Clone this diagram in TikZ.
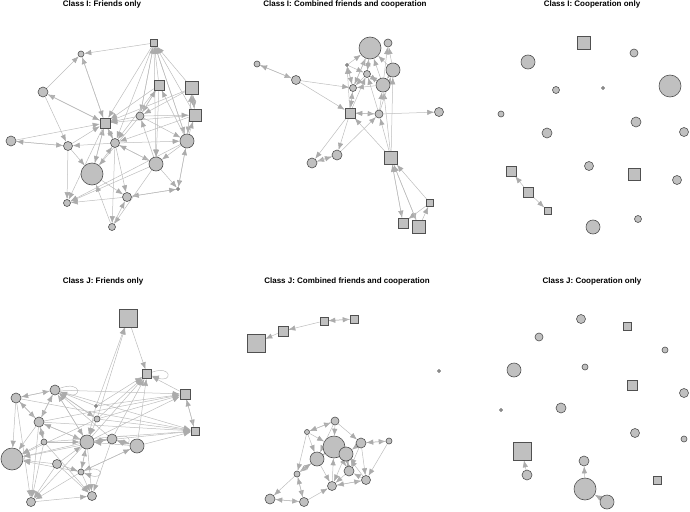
\documentclass[tikz,border=0pt]{standalone}
\usepackage{fontspec}
\setmainfont{Liberation Sans}
\usetikzlibrary{arrows.meta,backgrounds}
\definecolor{vfill}{HTML}{C0C0C0}
\definecolor{vline}{HTML}{505050}
\definecolor{egray}{HTML}{BDBDBD}
\definecolor{ahead}{HTML}{ABABAB}
\tikzset{
 cn/.style={circle,draw=vline,fill=vfill,line width=.6pt,inner sep=0pt,minimum size=#1pt},
 sn/.style={rectangle,draw=vline,fill=vfill,line width=.6pt,inner sep=0pt,minimum size=#1pt},
 ln/.style={draw=egray,line width=.5pt,-{Latex[length=7pt,width=5.4pt,color=ahead]}},
 ttl/.style={font=\bfseries\fontsize{8}{9}\selectfont,anchor=base}
}
\begin{document}
\begin{tikzpicture}[x=1pt,y=-1pt]
 \useasboundingbox (0,0) rectangle (690,511);
 % titles
 \node[ttl] (t1) at (102,7) {Class I: Friends only};
 \node[ttl] (t2) at (345,7) {Class I: Combined friends and cooperation};
 \node[ttl] (t3) at (592,7) {Class I: Cooperation only};
 \node[ttl] (t4) at (103,283) {Class J: Friends only};
 \node[ttl] (t5) at (347,283) {Class J: Combined friends and cooperation};
 \node[ttl] (t6) at (592,283) {Class J: Cooperation only};

 % Class I, friends
 \foreach \n/\x/\y/\d in {2/81/54/6,3/43/92/10,8/140/116/8,9/11/141/10,10/68/146/9,
   11/115/143/9,12/187/141/14,13/156/164/14,14/92/174/22,15/127/197/9,16/178/189/3,
   17/67/203/7,18/112/227/7}
  \node[cn=\d] (if\n) at (\x,\y) {};
 \foreach \n/\x/\y/\d in {1/154/43/7,4/159/85/10,5/192/88/13,6/195/115/12,7/105/123/10}
  \node[sn=\d] (if\n) at (\x,\y) {};

 % Class I, combined
 \foreach \n/\x/\y/\d in {1/370/48/22,2/388/43/8,3/347/65/3,4/393/70/14,5/367/74/7,
   6/383/85/14,7/353/88/7,8/257/64/6,9/296/80/9,11/379/114/8,12/439/112/9,
   14/337/155/10,15/312/163/10}
  \node[cn=\d] (ic\n) at (\x,\y) {};
 \foreach \n/\x/\y/\d in {10/350/113/10,13/391/158/13,16/430/203/7,17/403/223/10,18/419/227/13}
  \node[sn=\d] (ic\n) at (\x,\y) {};

 % Class I, cooperation
 \foreach \n/\x/\y/\d in {2/634/53/8,3/528/62/14,4/556/90/7,5/603/88/3,6/670/86/22,
   7/501/114/6,8/636/122/10,9/684/132/9,10/547/133/10,11/589/166/9,13/677/180/9,
   17/593/227/14,18/638/219/7}
  \node[cn=\d] (io\n) at (\x,\y) {};
 \foreach \n/\x/\y/\d in {1/584/43/13,12/634/174/12,14/511/171/10,15/528/192/10,16/548/211/7}
  \node[sn=\d] (io\n) at (\x,\y) {};

 % Class J, friends
 \foreach \n/\x/\y/\d in {5/16/398/10,6/55/390/10,7/96/406/3,8/97/419/6,9/39/422/10,
   10/44/442/6,11/87/442/14,12/112/439/10,13/137/446/14,14/12/459/22,15/57/464/9,
   16/81/472/6,17/31/502/9,18/92/496/9}
  \node[cn=\d] (jf\n) at (\x,\y) {};
 \foreach \n/\x/\y/\d in {1/128/318/18,2/147/374/9,3/185/394/10,4/195/431/8}
  \node[sn=\d] (jf\n) at (\x,\y) {};

 % Class J, combined
 \foreach \n/\x/\y/\d in {5/439/371/3,6/335/421/8,7/307/432/5,8/361/443/10,9/389/441/6,
   10/334/447/22,11/346/454/14,12/317/459/14,13/349/471/10,14/366/480/9,15/297/474/6,
   16/332/486/9,17/270/499/10,18/304/502/9}
  \node[cn=\d] (jc\n) at (\x,\y) {};
 \foreach \n/\x/\y/\d in {1/256/343/18,2/283/331/10,3/324/321/8,4/354/319/8}
  \node[sn=\d] (jc\n) at (\x,\y) {};

 % Class J, cooperation
 \foreach \n/\x/\y/\d in {1/581/319/9,3/539/337/8,4/665/350/6,5/514/370/14,6/585/367/6,
   8/684/393/9,9/501/410/3,10/561/408/10,11/635/433/9,12/684/439/6,14/584/461/10,
   15/527/475/10,17/585/489/22,18/607/502/14}
  \node[cn=\d] (jo\n) at (\x,\y) {};
 \foreach \n/\x/\y/\d in {2/627/326/8,7/632/385/10,13/522/451/18,16/657/480/8}
  \node[sn=\d] (jo\n) at (\x,\y) {};

 \begin{pgfonlayer}{background}
 \foreach \a/\b in {1/2,3/2,7/2,2/7,7/3,3/7,1/7,1/11,1/8,1/13,1/12,4/1,5/1,6/1,8/1,12/1,
   4/7,4/8,4/13,4/11,5/7,5/8,5/6,5/12,6/7,6/11,8/6,12/6,12/4,8/7,8/4,8/12,9/10,10/9,
   9/7,10/7,11/10,10/17,10/14,11/7,7/11,11/12,11/13,11/15,11/18,12/16,12/13,13/11,
   13/17,13/18,14/7,14/15,18/14,15/17,16/15,15/16,7/17,12/17,7/14,3/10,13/16,13/8,
   14/11,8/14,18/15,16/12,12/5,6/5}
  \draw[ln] (if\a) -- (if\b);
 \foreach \a/\b in {8/9,9/8,9/7,9/10,10/11,11/10,11/12,10/15,10/14,14/15,15/14,14/11,
   13/10,13/11,13/6,13/4,13/17,13/18,16/13,17/13,16/17,18/13,7/1,5/1,6/1,4/1,3/1,1/5,
   4/2,6/2,7/3,3/7,10/7,7/10,10/3,10/5,11/6,11/4,11/5,6/5,5/6,4/6,3/5,5/7,6/7,1/7,18/16}
  \draw[ln] (ic\a) -- (ic\b);
 \foreach \a/\b in {15/14,15/16}
  \draw[ln] (io\a) -- (io\b);
 \foreach \a/\b in {1/2,7/1,8/1,3/2,3/4,4/3,5/6,6/5,5/14,9/14,10/14,11/14,8/14,12/14,
   15/14,16/14,7/2,8/2,12/2,13/2,11/2,6/3,9/3,7/3,8/3,11/3,5/4,6/4,9/4,10/4,8/4,11/4,
   13/4,17/18,11/17,15/17,10/17,16/17,9/17,16/18,10/18,11/18,12/18,15/18,6/9,9/6,5/9,
   9/5,6/8,8/6,7/6,11/6,12/6,6/11,9/11,11/9,7/11,11/12,12/11,13/12,12/13,13/11,8/11,
   16/11,11/16,13/16,16/13,15/11,10/9,9/10,15/16,10/11,5/17}
  \draw[ln] (jf\a) -- (jf\b);
 \draw[ln] (jf2) to[out=20,in=-20,min distance=22pt] (jf2);
 \draw[ln] (jf6) to[out=20,in=-20,min distance=24pt] (jf6);
 \draw[ln] (jf16) to[out=20,in=-20,min distance=22pt] (jf16);
 \draw[ln] (jf12) to[out=20,in=-20,min distance=16pt] (jf12);
 \foreach \a/\b in {2/1,3/2,3/4,4/3,7/6,6/7,6/10,8/9,9/8,7/10,7/12,7/15,8/11,8/14,9/14,
   12/15,15/17,17/18,18/17,15/18,18/15,18/16,16/14,14/16,13/16,12/16,11/16,16/10,13/11,
   11/13,10/13,12/10,10/12,8/13,14/13,14/11,15/12,6/8,6/12}
  \draw[ln] (jc\a) -- (jc\b);
 \foreach \a/\b in {15/13,17/14,18/17}
  \draw[ln] (jo\a) -- (jo\b);
 \end{pgfonlayer}
\end{tikzpicture}
\end{document}
